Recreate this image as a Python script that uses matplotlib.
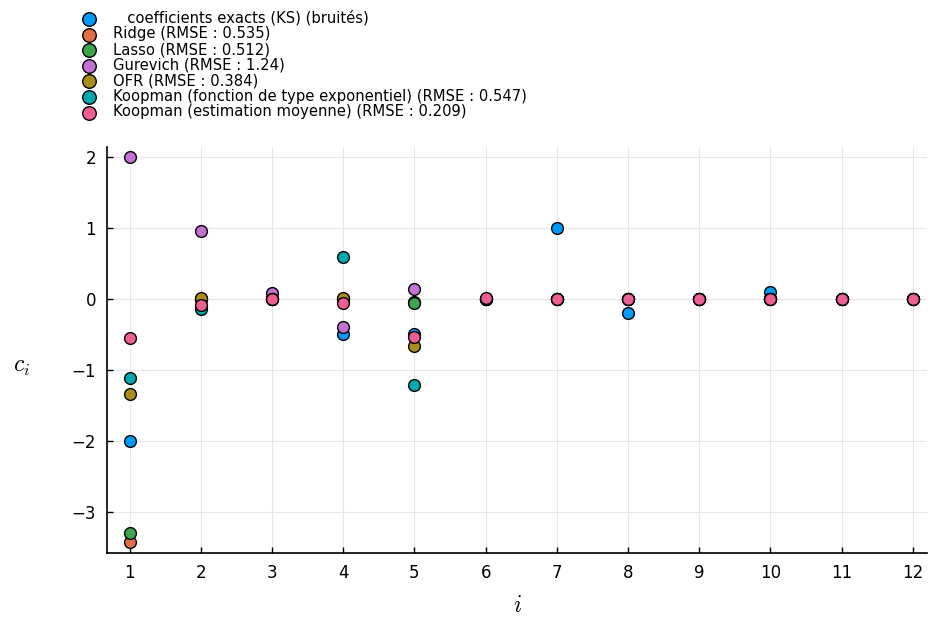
import numpy as np
import matplotlib.pyplot as plt

plt.rcParams["mathtext.fontset"] = "cm"

# indices des coefficients
i_vals = np.arange(1, 13)

labels = [
    "   coefficients exacts (KS) (bruités)",
    "Ridge (RMSE : 0.535)",
    "Lasso (RMSE : 0.512)",
    "Gurevich (RMSE : 1.24)",
    "OFR (RMSE : 0.384)",
    "Koopman (fonction de type exponentiel) (RMSE : 0.547)",
    "Koopman (estimation moyenne) (RMSE : 0.209)",
]

exact    = [-2.0, 0.0, 0.0, -0.5, -0.5, 0.0, 1.0, -0.2, 0.0, 0.1, 0.0, 0.0]
ridge    = [-3.42, 0.0, 0.0, 0.0, -0.05, 0.0, 0.0, 0.0, 0.0, 0.0, 0.0, 0.0]
lasso    = [-3.30, 0.0, 0.0, 0.0, -0.06, 0.0, 0.0, 0.0, 0.0, 0.0, 0.0, 0.0]
gurevich = [2.0, 0.95, 0.09, -0.39, 0.14, 0.0, 0.0, 0.0, 0.0, 0.0, 0.0, 0.0]
ofr      = [-1.34, 0.01, 0.0, 0.01, -0.67, 0.0, 0.0, 0.0, 0.0, 0.0, 0.0, 0.0]
koop_exp = [-1.11, -0.14, 0.0, 0.59, -1.22, 0.0, 0.0, 0.0, 0.0, 0.0, 0.0, 0.0]
koop_moy = [-0.55, -0.08, 0.0, -0.06, -0.54, 0.01, 0.0, 0.0, 0.0, 0.0, 0.0, 0.0]

series = [exact, ridge, lasso, gurevich, ofr, koop_exp, koop_moy]
colors = ["#009AFA", "#E36F47", "#3EA44E", "#C371D2", "#AC8D18", "#00A9AD", "#ED5E93"]

fig = plt.figure(figsize=(9.29, 6.17), dpi=100)
ax = fig.add_axes([107/929, 1 - 553/617, (927 - 107)/929, (553 - 147)/617])

for vals, col, lab in zip(series, colors, labels):
    ax.scatter(i_vals, vals, s=72, color=col, edgecolors="black", linewidths=1.0,
               label=lab, zorder=3)

ax.set_xlim(0.68, 12.2)
ax.set_ylim(-3.58, 2.14)
ax.set_xticks(i_vals)
ax.set_yticks([-3, -2, -1, 0, 1, 2])
ax.tick_params(direction="in", labelsize=12, length=4, width=1, pad=8)
ax.set_yticklabels(["\u22123", "\u22122", "\u22121", "0", "1", "2"])
ax.grid(True, color="#e6e6e6", linewidth=0.8, zorder=0)
ax.spines["top"].set_visible(False)
ax.spines["right"].set_visible(False)
ax.spines["left"].set_linewidth(1.2)
ax.spines["bottom"].set_linewidth(1.2)

ax.set_xlabel(r"$i$", fontsize=17, labelpad=8)
ax.set_ylabel(r"$c_i$", fontsize=17, rotation=0, va="center", ha="center")
ax.yaxis.set_label_coords(-0.104, 0.46)

fig.legend(loc="upper left", bbox_to_anchor=(67/929, 1 - 3/617), frameon=False,
           fontsize=10.6, handletextpad=0.6, labelspacing=0.04, borderpad=0,
           scatterpoints=1, markerscale=1.15)

fig.savefig("out.png", dpi=100)
